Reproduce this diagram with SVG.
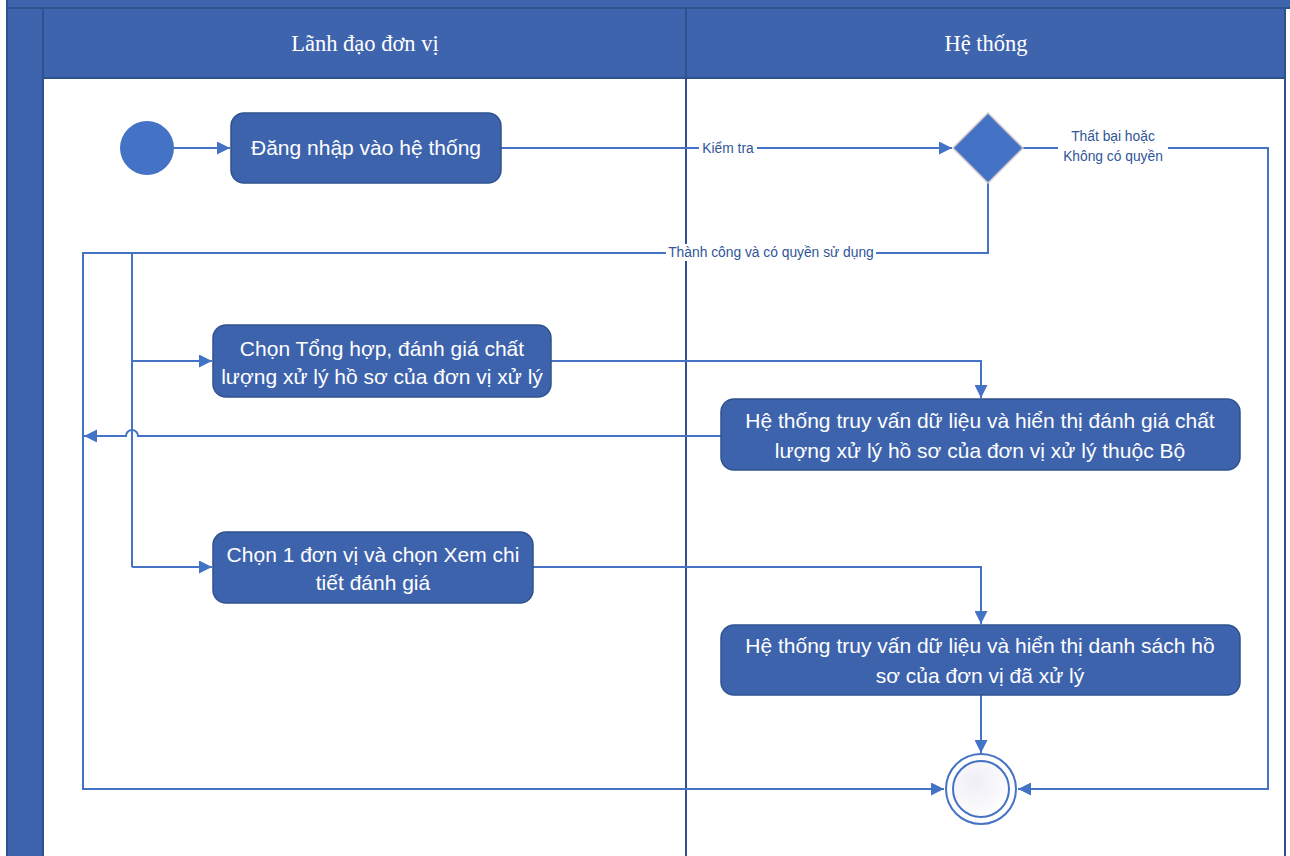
<svg xmlns="http://www.w3.org/2000/svg" width="1290" height="856" viewBox="0 0 1290 856">
<defs>
<style>
.lane{fill:#3F64AE;stroke:#2F528F;stroke-width:2}
.hdr{font-family:"Liberation Serif",serif;font-size:22.5px;fill:#FFFFFF;text-anchor:middle}
.node{fill:#3E63AD;stroke:#2F528F;stroke-width:1.5}
.nt{font-family:"Liberation Sans",Arial,sans-serif;font-size:21px;fill:#FFFFFF;text-anchor:middle}
.edge{fill:none;stroke:#4472C4;stroke-width:2}
.lbl{font-family:"Liberation Sans",Arial,sans-serif;font-size:13.8px;fill:#2F5597;text-anchor:middle}
.lblbg{fill:#FFFFFF}
</style>
<marker id="ah" viewBox="0 0 12 12" refX="12" refY="6" markerWidth="13" markerHeight="13" orient="auto" markerUnits="userSpaceOnUse">
<path d="M0,0 L12,6 L0,12 Z" fill="#4472C4"/>
</marker>
<radialGradient id="endg" cx="0.4" cy="0.35" r="0.7">
<stop offset="0" stop-color="#EEEEF6"/>
<stop offset="1" stop-color="#FFFFFF"/>
</radialGradient>
</defs>
<rect x="0" y="0" width="1290" height="856" fill="#FFFFFF"/>
<g id="pool">
<rect class="lane" x="7" y="-2" width="1290" height="10"/>
<rect class="lane" x="7" y="8" width="36" height="852"/>
<rect class="lane" x="43" y="8" width="643" height="70"/>
<rect class="lane" x="686" y="8" width="599" height="70"/>
<line x1="686" y1="78" x2="686" y2="856" stroke="#2F528F" stroke-width="2"/>
<line x1="1285" y1="78" x2="1285" y2="856" stroke="#2F528F" stroke-width="2"/>
<text class="hdr" x="365" y="51">Lãnh đạo đơn vị</text>
<text class="hdr" x="986" y="51">Hệ thống</text>
</g>
<g id="connectors">
<line class="edge" x1="174" y1="148" x2="230" y2="148" marker-end="url(#ah)"/>
<line class="edge" x1="501" y1="148" x2="952" y2="148" marker-end="url(#ah)"/>
<rect class="lblbg" x="699" y="140" width="58" height="17"/>
<text class="lbl" x="728" y="153">Kiểm tra</text>
<polyline class="edge" points="1023,148 1268,148 1268,789 1018,789" marker-end="url(#ah)"/>
<rect class="lblbg" x="1058" y="126" width="110" height="38"/>
<text class="lbl" x="1113" y="141">Thất bại hoặc</text>
<text class="lbl" x="1113" y="161">Không có quyền</text>
<polyline class="edge" points="988,182 988,253 132,253 132,361 212,361" marker-end="url(#ah)"/>
<line class="edge" x1="132" y1="361" x2="132" y2="567"/>
<line class="edge" x1="132" y1="567" x2="212" y2="567" marker-end="url(#ah)"/>
<polyline class="edge" points="132,253 83,253 83,789 944,789" marker-end="url(#ah)"/>
<rect class="lblbg" x="666" y="244" width="210" height="17"/>
<text class="lbl" x="771" y="257">Thành công và có quyền sử dụng</text>
<polyline class="edge" points="551,361 981,361 981,398" marker-end="url(#ah)"/>
<path class="edge" d="M721,436 L138,436 A6,6 0 0 0 126,436 L84,436" marker-end="url(#ah)"/>
<polyline class="edge" points="533,567 981,567 981,624" marker-end="url(#ah)"/>
<line class="edge" x1="981" y1="695" x2="981" y2="753" marker-end="url(#ah)"/>
</g>
<g id="start">
<circle cx="147" cy="148" r="27" fill="#4472C4"/>
</g>
<g id="n1">
<rect class="node" x="231" y="113" width="270" height="70" rx="13"/>
<text class="nt" x="366" y="155">Đăng nhập vào hệ thống</text>
</g>
<g id="decision">
<polygon points="988,113 1023,148 988,183 953,148" fill="#4472C4" stroke="#C8C8C8" stroke-width="1.5"/>
</g>
<g id="n2">
<rect class="node" x="213" y="325" width="338" height="72" rx="13"/>
<text class="nt" x="382" y="356">Chọn Tổng hợp, đánh giá chất</text>
<text class="nt" x="382" y="384">lượng xử lý hồ sơ của đơn vị xử lý</text>
</g>
<g id="n3">
<rect class="node" x="721" y="399" width="519" height="71" rx="13"/>
<text class="nt" x="980" y="428">Hệ thống truy vấn dữ liệu và hiển thị đánh giá chất</text>
<text class="nt" x="980" y="458">lượng xử lý hồ sơ của đơn vị xử lý thuộc Bộ</text>
</g>
<g id="n4">
<rect class="node" x="213" y="532" width="320" height="71" rx="13"/>
<text class="nt" x="373" y="562">Chọn 1 đơn vị và chọn Xem chi</text>
<text class="nt" x="373" y="590">tiết đánh giá</text>
</g>
<g id="n5">
<rect class="node" x="721" y="625" width="519" height="70" rx="13"/>
<text class="nt" x="980" y="653">Hệ thống truy vấn dữ liệu và hiển thị danh sách hồ</text>
<text class="nt" x="980" y="683">sơ của đơn vị đã xử lý</text>
</g>
<g id="end">
<circle cx="981" cy="789" r="35" fill="#FFFFFF" stroke="#4472C4" stroke-width="2"/>
<circle cx="981" cy="789" r="28" fill="url(#endg)" stroke="#4472C4" stroke-width="2"/>
</g>
</svg>
